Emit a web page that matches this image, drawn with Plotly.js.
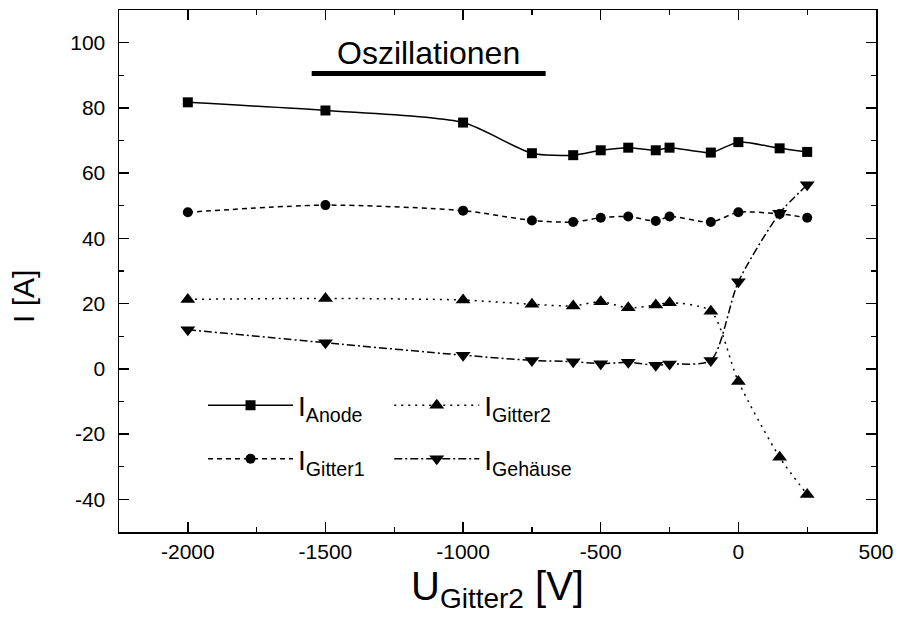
<!DOCTYPE html>
<html>
<head>
<meta charset="utf-8">
<script src="https://cdn.plot.ly/plotly-3.0.1.min.js"></script>
<style>html,body{margin:0;padding:0;background:#fff;}#chart{width:899px;height:623px;}</style>
</head>
<body>
<div id="chart"></div>
<script>
const uGitter2 = [-2000, -1500, -1000, -750, -600, -500, -400, -300, -250, -100, 0, 150, 250];
const iAnode   = [81.7, 79.2, 75.5, 66.1, 65.5, 67.0, 67.8, 67.0, 67.8, 66.3, 69.5, 67.6, 66.5];
const iGitter1 = [48.0, 50.2, 48.5, 45.5, 45.0, 46.3, 46.7, 45.3, 46.7, 45.0, 48.0, 47.5, 46.3];
const iGitter2 = [21.3, 21.6, 21.1, 19.8, 19.3, 20.6, 18.7, 19.6, 20.3, 17.7, -3.9, -27.1, -38.5];
const iGehaeuse= [12.0, 8.0, 4.2, 2.6, 2.2, 1.6, 2.0, 1.1, 1.5, 2.6, 26.7, 47.7, 56.4];
const seriesSubs = ['Anode', 'Gitter1', 'Gitter2', 'Gehäuse'];
const xTickVals = [-2000, -1500, -1000, -500, 0, 500];
const xTickText = ['-2000', '-1500', '-1000', '-500', '0', '500'];
const yTickVals = [-40, -20, 0, 20, 40, 60, 80, 100];
const yTickText = ['-40', '-20', '0', '20', '40', '60', '80', '100'];
const oscRange = [-1550, -700];
const oscLevel = 90.5;

const black = '#000';
const fontFam = 'Liberation Sans, Arial, sans-serif';
function legName(s) { return 'I<sub>' + s + '</sub>'; }
function tr(y, i, sym, size, dash, legend) {
  return {
    x: uGitter2, y: y, name: legName(seriesSubs[i]), type: 'scatter', mode: 'lines+markers',
    line: {color: black, width: 1.5, dash: dash, shape: 'spline', smoothing: 0.7},
    marker: {symbol: sym, size: size, color: black},
    legend: legend, legendgroup: 'g' + i
  };
}
const data = [
  tr(iAnode, 0, 'square', 10, 'solid', 'legend'),
  tr(iGitter1, 1, 'circle', 10, '5px,4px', 'legend'),
  tr(iGitter2, 2, 'triangle-up', 13, '2px,5px', 'legend2'),
  tr(iGehaeuse, 3, 'triangle-down', 13, '8px,3px,2px,3px', 'legend2')
];

const axisCommon = {
  showline: true, linecolor: black, linewidth: 1.5, mirror: 'allticks',
  ticks: 'inside', ticklen: 10, tickwidth: 1.5, tickcolor: black,
  showgrid: false, zeroline: false,
  tickfont: {family: fontFam, size: 21, color: black}
};
const legCommon = {xanchor: 'left', yanchor: 'top', bgcolor: 'rgba(0,0,0,0)',
  font: {family: fontFam, size: 28, color: black}, tracegroupgap: 14, traceorder: 'grouped', itemwidth: 85};
const layout = {
  width: 899, height: 623,
  margin: {l: 119, r: 23, t: 10, b: 91},
  paper_bgcolor: '#fff', plot_bgcolor: '#fff',
  font: {family: fontFam, color: black},
  showlegend: true,
  xaxis: Object.assign({}, axisCommon, {
    range: [-2250, 500], tickmode: 'array', tickvals: xTickVals, ticktext: xTickText,
    minor: {dtick: 250, tick0: 0, ticks: 'inside', ticklen: 5, tickwidth: 1.2, tickcolor: black},
    title: {text: 'U<sub>Gitter2</sub> [V]', font: {family: fontFam, size: 40, color: black}, standoff: 10}
  }),
  yaxis: Object.assign({}, axisCommon, {
    range: [-50, 110], tickmode: 'array', tickvals: yTickVals, ticktext: yTickText,
    ticklabelstandoff: 8,
    minor: {dtick: 10, tick0: 0, ticks: 'inside', ticklen: 5, tickwidth: 1.2, tickcolor: black}
  }),
  legend: Object.assign({}, legCommon, {x: 0.111, y: 0.29}),
  legend2: Object.assign({}, legCommon, {x: 0.357, y: 0.29}),
  shapes: [{type: 'line', xref: 'x', yref: 'y', x0: oscRange[0], x1: oscRange[1], y0: oscLevel, y1: oscLevel,
            line: {color: black, width: 5}}],
  annotations: [
    {xref: 'x', yref: 'y', x: (oscRange[0] + oscRange[1]) / 2, y: oscLevel, yanchor: 'bottom', yshift: 1,
     text: 'Oszillationen', showarrow: false, font: {family: fontFam, size: 32, color: black}},
    {xref: 'paper', yref: 'paper', x: -0.127, y: 0.452, xanchor: 'center', yanchor: 'middle', textangle: -90,
     text: 'I [A]', showarrow: false, font: {family: fontFam, size: 30, color: black}}
  ]
};
Plotly.newPlot('chart', data, layout, {displayModeBar: false, staticPlot: true});
</script>
</body>
</html>
